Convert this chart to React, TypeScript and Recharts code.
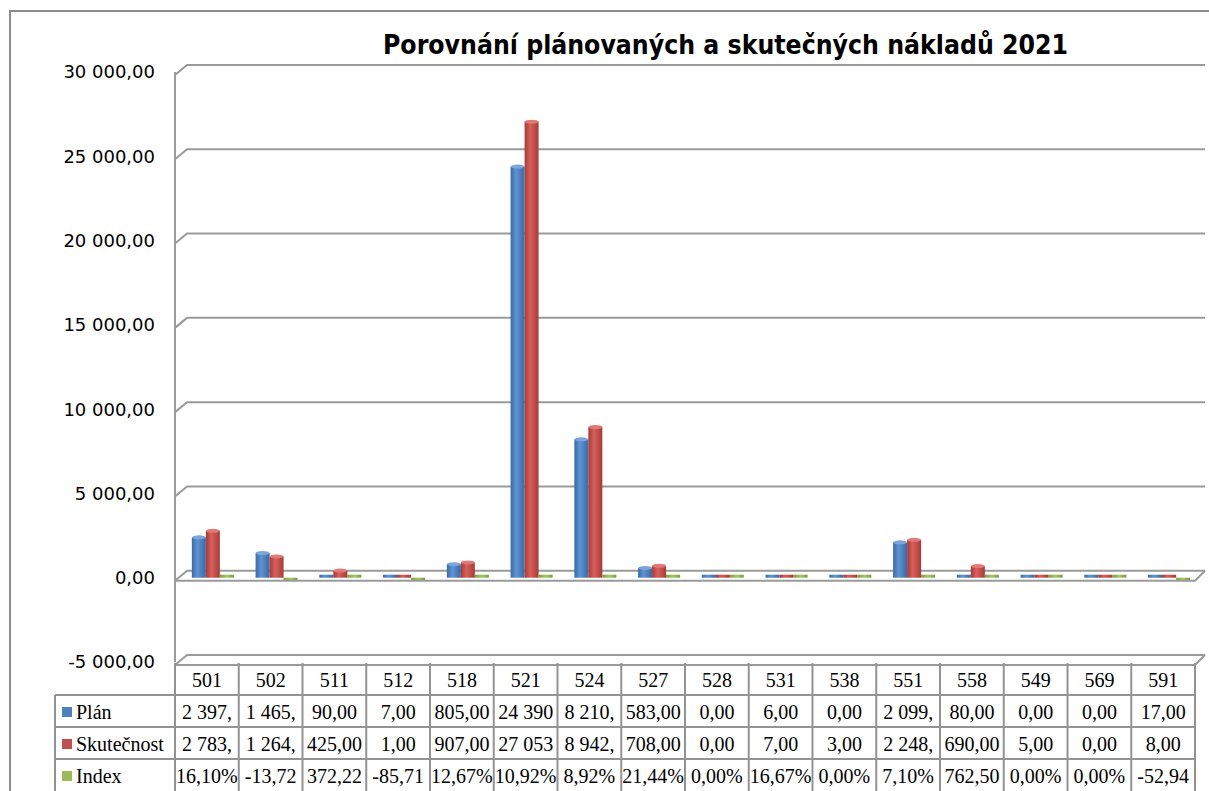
import React from 'react';
import { BarChart, Bar, XAxis, YAxis, CartesianGrid, ReferenceLine } from 'recharts';

const categories = ['501', '502', '511', '512', '518', '521', '524', '527', '528', '531', '538', '551', '558', '549', '569', '591'];
const planValues = [2397, 1465, 90, 7, 805, 24390, 8210, 583, 0, 6, 0, 2099, 80, 0, 0, 17];
const actualValues = [2783, 1264, 425, 1, 907, 27053, 8942, 708, 0, 7, 3, 2248, 690, 5, 0, 8];
const indexPercent = [16.1, -13.72, 372.22, -85.71, 12.67, 10.92, 8.92, 21.44, 0, 16.67, 0, 7.1, 762.5, 0, 0, -52.94];
const yTicks = [-5000, 0, 5000, 10000, 15000, 20000, 25000, 30000];
const seriesNames = ['Plán', 'Skutečnost', 'Index'];
const seriesColors = ['#4F81BD', '#C0504D', '#9BBB59'];
const title = 'Porovnání plánovaných a skutečných nákladů 2021';

const CHART_W = 1209;
const CHART_H = 791;
const Y_AXIS_W = 175;
const M_TOP = 72;
const M_RIGHT = 14;
const X_AXIS_H = 129;
const COL_W = (CHART_W - Y_AXIS_W - M_RIGHT) / categories.length;
const TABLE_TOP = CHART_H - X_AXIS_H + 1;
const ROW_H = 32;
const LINE = '#939393';
const SERIF = '"Liberation Serif", "Times New Roman", serif';

const data = categories.map((c, i) => ({
  cat: c,
  plan: planValues[i],
  actual: actualValues[i],
  index: indexPercent[i] / 100,
}));

const fmtNum = (v: number) => {
  const [i, d] = Math.abs(v).toFixed(2).split('.');
  const g = i.replace(/\B(?=(\d{3})+(?!\d))/g, ' ');
  return (v < 0 ? '-' : '') + g + ',' + d;
};
const fmtPct = (v: number) => v.toFixed(2).replace('.', ',') + '%';
const cellText = (s: string) => s.slice(0, 6);

const rowTexts = [
  planValues.map((v) => cellText(fmtNum(v))),
  actualValues.map((v) => cellText(fmtNum(v))),
  indexPercent.map((v) => cellText(fmtPct(v))),
];

const GridLine = (props: any) => {
  const { x1, x2, y1 } = props;
  return (
    <path
      key={`g-${y1}`}
      d={`M${x1},${y1 + 3} L${x1 + 12},${y1 - 7} L${x2 + 10},${y1 - 7}`}
      stroke="#9a9a9a"
      strokeWidth={2}
      fill="none"
    />
  );
};

const FloorLine = (props: any) => {
  const { x1, x2, y1 } = props;
  return (
    <path
      d={`M${x1},${y1 + 3} L${x2},${y1 + 3} L${x2 + 10},${y1 - 7}`}
      stroke="#9a9a9a"
      strokeWidth={2}
      fill="none"
    />
  );
};

const makeShape = (gradId: string, capColor: string) => (props: any) => {
  const { x, y, width, height } = props;
  if (x == null || y == null || !width) return <g />;
  const xx = x + 6;
  const top = Math.min(y, y + height);
  const h = Math.abs(height);
  return (
    <g>
      <rect x={xx} y={top} width={width} height={h} fill={`url(#${gradId})`} />
      {h > 4 && <ellipse cx={xx + width / 2} cy={top} rx={width / 2} ry={2} fill={capColor} />}
    </g>
  );
};

const TableTick = (props: any) => {
  const { x, payload, index } = props;
  const left = x - COL_W / 2;
  const right = x + COL_W / 2;
  const last = index === categories.length - 1;
  return (
    <g>
      <line x1={left} y1={TABLE_TOP} x2={left} y2={CHART_H} stroke={LINE} strokeWidth={2} />
      {last && <line x1={right} y1={TABLE_TOP} x2={right} y2={CHART_H} stroke={LINE} strokeWidth={2} />}
      {[1, 2, 3].map((r) => (
        <line key={r} x1={left} y1={TABLE_TOP + r * ROW_H} x2={right} y2={TABLE_TOP + r * ROW_H} stroke={LINE} strokeWidth={2} />
      ))}
      <text x={x} y={TABLE_TOP + ROW_H / 2 + 1} textAnchor="middle" dominantBaseline="central" fontFamily={SERIF} fontSize={20} fill="#000">
        {payload.value}
      </text>
      {rowTexts.map((row, r) => (
        <text key={r} x={x} y={TABLE_TOP + (r + 1.5) * ROW_H + 1} textAnchor="middle" dominantBaseline="central" fontFamily={SERIF} fontSize={20} fill="#000">
          {row[index]}
        </text>
      ))}
      {index === 0 && (
        <g>
          <line x1={55} y1={TABLE_TOP + ROW_H} x2={55} y2={CHART_H} stroke={LINE} strokeWidth={2} />
          {[1, 2, 3].map((r) => (
            <line key={r} x1={55} y1={TABLE_TOP + r * ROW_H} x2={left} y2={TABLE_TOP + r * ROW_H} stroke={LINE} strokeWidth={2} />
          ))}
          {seriesNames.map((n, r) => (
            <g key={n}>
              <rect x={62} y={TABLE_TOP + (r + 1.5) * ROW_H - 4} width={10} height={10} fill={seriesColors[r]} />
              <text x={76} y={TABLE_TOP + (r + 1.5) * ROW_H + 1} dominantBaseline="central" fontFamily={SERIF} fontSize={20} fill="#000">
                {n}
              </text>
            </g>
          ))}
        </g>
      )}
    </g>
  );
};

export default function App() {
  return (
    <div style={{ position: 'absolute', left: 0, top: 0, width: CHART_W, height: CHART_H, overflow: 'hidden', background: '#fff' }}>
      <div
        style={{
          position: 'absolute',
          left: 9,
          top: 10,
          width: 1400,
          height: 1000,
          borderLeft: '2px solid #8c8c8c',
          borderTop: '2px solid #8c8c8c',
        }}
      />
      <svg style={{ position: 'absolute', left: 0, top: 0 }} width={CHART_W} height={70}>
        <text
          x={383}
          y={54}
          textLength={685}
          lengthAdjust="spacingAndGlyphs"
          fontFamily='"DejaVu Sans Condensed", "DejaVu Sans", sans-serif'
          fontWeight="bold"
          fontSize={26}
          fill="#000"
        >
          {title}
        </text>
      </svg>
      <div style={{ position: 'absolute', left: 0, top: 0 }}>
        <BarChart
          width={CHART_W}
          height={CHART_H}
          data={data}
          margin={{ top: M_TOP, right: M_RIGHT, bottom: 0, left: 0 }}
          barCategoryGap="17%"
          barGap={0}
        >
          <defs>
            <linearGradient id="gBlue" x1="0" y1="0" x2="1" y2="0">
              <stop offset="0%" stopColor="#3d6ba3" />
              <stop offset="40%" stopColor="#5e93d4" />
              <stop offset="100%" stopColor="#3c69a3" />
            </linearGradient>
            <linearGradient id="gRed" x1="0" y1="0" x2="1" y2="0">
              <stop offset="0%" stopColor="#a33b38" />
              <stop offset="40%" stopColor="#d85f5b" />
              <stop offset="100%" stopColor="#a53c39" />
            </linearGradient>
            <linearGradient id="gGreen" x1="0" y1="0" x2="1" y2="0">
              <stop offset="0%" stopColor="#7f9c45" />
              <stop offset="50%" stopColor="#a6c764" />
              <stop offset="100%" stopColor="#7f9c45" />
            </linearGradient>
          </defs>
          <CartesianGrid vertical={false} horizontal={GridLine} />
          <YAxis
            width={Y_AXIS_W}
            domain={[-5000, 30000]}
            ticks={yTicks}
            interval={0}
            tickFormatter={fmtNum}
            tickLine={false}
            tickMargin={14}
            axisLine={{ stroke: '#9a9a9a', strokeWidth: 2 }}
            tick={{ fontFamily: '"DejaVu Sans", sans-serif', fontSize: 18, fill: '#000' }}
          />
          <XAxis dataKey="cat" height={X_AXIS_H} tickLine={false} axisLine={false} interval={0} tick={<TableTick />} />
          <ReferenceLine y={0} shape={FloorLine} />
          <ReferenceLine y={-5000} shape={FloorLine} />
          <Bar dataKey="plan" name={seriesNames[0]} fill={seriesColors[0]} minPointSize={3} isAnimationActive={false} shape={makeShape('gBlue', '#7aa6dc')} />
          <Bar dataKey="actual" name={seriesNames[1]} fill={seriesColors[1]} minPointSize={3} isAnimationActive={false} shape={makeShape('gRed', '#e07a77')} />
          <Bar dataKey="index" name={seriesNames[2]} fill={seriesColors[2]} minPointSize={3} isAnimationActive={false} shape={makeShape('gGreen', '#b9d47f')} />
        </BarChart>
      </div>
    </div>
  );
}
